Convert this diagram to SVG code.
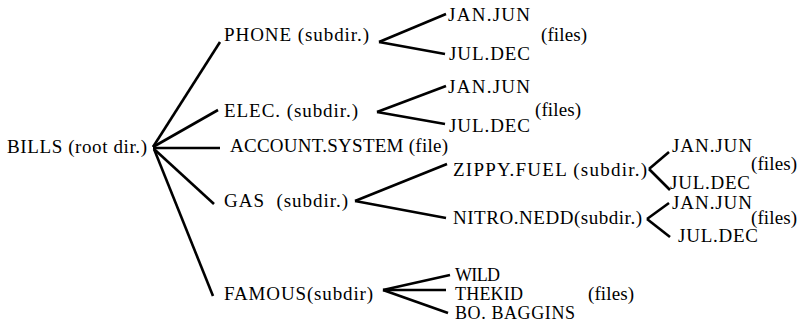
<svg xmlns="http://www.w3.org/2000/svg" width="807" height="322" viewBox="0 0 807 322">
<style>
line{stroke:#000;stroke-width:2.6;stroke-linecap:butt}
.s{font-size:18px}
</style>
<rect width="807" height="322" fill="#fff"/>
<g id="connectors">
<line x1="153" y1="147" x2="220" y2="42"/>
<line x1="153" y1="147" x2="218" y2="110"/>
<line x1="153" y1="148" x2="220" y2="148"/>
<line x1="154" y1="149" x2="214" y2="204"/>
<line x1="154" y1="149" x2="213" y2="296"/>
<line x1="379" y1="42" x2="446" y2="14"/>
<line x1="379" y1="42" x2="445" y2="54"/>
<line x1="377" y1="112" x2="446" y2="86"/>
<line x1="377" y1="112" x2="445" y2="124"/>
<line x1="355" y1="201" x2="447" y2="164"/>
<line x1="355" y1="201" x2="446" y2="218"/>
<line x1="649" y1="169" x2="669" y2="152"/>
<line x1="649" y1="169" x2="670" y2="190"/>
<line x1="647" y1="219" x2="669" y2="203"/>
<line x1="647" y1="219" x2="670" y2="237"/>
<line x1="383" y1="290" x2="450" y2="275"/>
<line x1="383" y1="290" x2="446" y2="290"/>
<line x1="383" y1="290" x2="448" y2="313"/>
</g>
<g font-family="Liberation Serif, Times New Roman, DejaVu Serif, serif" font-size="19" fill="#000">
<g id="bills"><text x="7" y="153" textLength="140">BILLS (root dir.)</text></g>
<g id="phone"><text x="224" y="41" textLength="145">PHONE (subdir.)</text></g>
<g id="phone-files">
<text x="448" y="21" textLength="82">JAN.JUN</text>
<text x="449" y="60" textLength="81">JUL.DEC</text>
<text x="541" y="41" textLength="46">(files)</text>
</g>
<g id="elec"><text x="224" y="117" textLength="134">ELEC. (subdir.)</text></g>
<g id="elec-files">
<text x="448" y="93" textLength="82">JAN.JUN</text>
<text x="449" y="132" textLength="81">JUL.DEC</text>
<text x="535" y="116" textLength="46">(files)</text>
</g>
<g id="account"><text x="230" y="152" textLength="218">ACCOUNT.SYSTEM (file)</text></g>
<g id="gas"><text x="224" y="207" xml:space="preserve" textLength="124">GAS  (subdir.)</text></g>
<g id="zippy"><text x="453" y="176" textLength="194">ZIPPY.FUEL (subdir.)</text></g>
<g id="zippy-files">
<text x="672" y="152" textLength="80">JAN.JUN</text>
<text x="670" y="189" textLength="80">JUL.DEC</text>
<text x="751" y="170" textLength="46">(files)</text>
</g>
<g id="nitro"><text x="453" y="224" textLength="189">NITRO.NEDD(subdir.)</text></g>
<g id="nitro-files">
<text x="672" y="209" textLength="80">JAN.JUN</text>
<text x="678" y="242" textLength="80">JUL.DEC</text>
<text x="751" y="224" textLength="46">(files)</text>
</g>
<g id="famous"><text x="224" y="300" textLength="149">FAMOUS(subdir)</text></g>
<g id="famous-files">
<text class="s" x="455" y="281" textLength="45">WILD</text>
<text class="s" x="455" y="300" textLength="68">THEKID</text>
<text class="s" x="455" y="319" textLength="120">BO. BAGGINS</text>
<text x="588" y="300" textLength="46">(files)</text>
</g>
</g>
</svg>
